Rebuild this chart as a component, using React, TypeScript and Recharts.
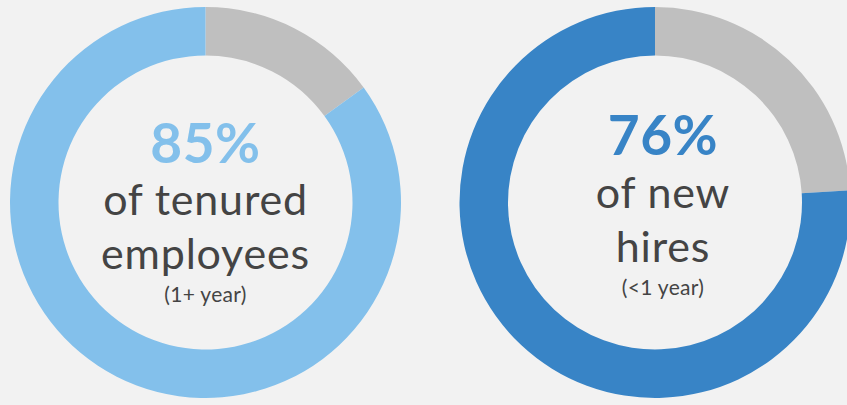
import { Cell, Label, Pie, PieChart } from "recharts";

const WIDTH = 847;
const HEIGHT = 405;

// share of each group, first slice is the grey remainder
const groups = ["tenured", "new"];
const percents = [85, 76];
const headlines = ["85%", "76%"];
const lineOne = ["of tenured", "of new"];
const lineTwo = ["employees", "hires"];
const notes = ["(1+ year)", "(<1 year)"];

const ACCENTS = ["#83C0EB", "#3884C6"];
const GREY = "#BFBFBF";
const INK = "#444444";

const CENTERS = [205.5, 655];
const TEXT_SHIFT = [0, 8];
const TEXT_Y = [
  [163, 215, 269, 302],
  [155, 208, 262, 295],
];

function donutData(pct: number) {
  return [
    { name: "other", value: 100 - pct },
    { name: "share", value: pct },
  ];
}

export default function App() {
  return (
    <div style={{ width: WIDTH, height: HEIGHT, background: "#F2F2F2" }}>
      <style>{"body{margin:0}"}</style>
      <PieChart
        width={WIDTH}
        height={HEIGHT}
        margin={{ top: 0, right: 0, bottom: 0, left: 0 }}
      >
        {groups.map((g, i) => (
          <Pie
            key={g}
            data={donutData(percents[i])}
            dataKey="value"
            cx={CENTERS[i]}
            cy={202.5}
            innerRadius={147}
            outerRadius={195.5}
            startAngle={90}
            endAngle={-270}
            stroke="none"
            isAnimationActive={false}
          >
            <Cell fill={GREY} />
            <Cell fill={ACCENTS[i]} />
            <Label
              position="center"
              content={() => {
                const x = CENTERS[i] + TEXT_SHIFT[i];
                const ys = TEXT_Y[i];
                return (
                  <g fontFamily="Lato, sans-serif" textAnchor="middle">
                    <text
                      x={x}
                      y={ys[0]}
                      fill={ACCENTS[i]}
                      fontSize={55}
                      fontWeight={700}
                      letterSpacing={0.5}
                    >
                      {headlines[i]}
                    </text>
                    <text
                      x={x}
                      y={ys[1]}
                      fill={INK}
                      fontSize={43}
                      letterSpacing={0.8}
                    >
                      {lineOne[i]}
                    </text>
                    <text
                      x={x}
                      y={ys[2]}
                      fill={INK}
                      fontSize={43}
                      letterSpacing={0.8}
                    >
                      {lineTwo[i]}
                    </text>
                    <text
                      x={x}
                      y={ys[3]}
                      fill={INK}
                      fontSize={21}
                      letterSpacing={0.3}
                    >
                      {notes[i]}
                    </text>
                  </g>
                );
              }}
            />
          </Pie>
        ))}
      </PieChart>
    </div>
  );
}
